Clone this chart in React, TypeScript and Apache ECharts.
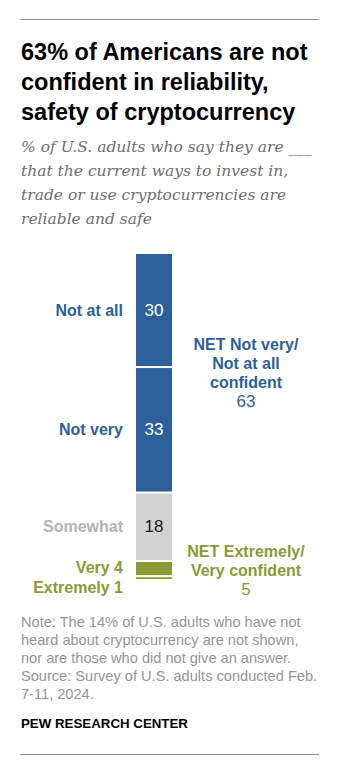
import React, { useEffect, useRef } from "react";
import * as echarts from "echarts";

const categories = ["Not at all", "Not very", "Somewhat", "Very", "Extremely"];
const values = [30, 33, 18, 4, 1];
const colors = ["#2d5f9a", "#2d5f9a", "#d2d2d2", "#8b9a35", "#8b9a35"];
const labelColors = ["#2d5f9a", "#2d5f9a", "#b3b3b3", "#8b9a35", "#8b9a35"];
const insideColors = ["#ffffff", "#ffffff", "#1a1a1a", "", ""];
const netValues = [63, 18, 5];
const netLabels = [["NET Not very/", "Not at all", "confident"], null, ["NET Extremely/", "Very confident"]];
const netColors = ["#2d5f9a", "", "#8b9a35"];

const titleText = "63% of Americans are not\nconfident in reliability,\nsafety of cryptocurrency";
const subtitleText =
  "% of U.S. adults who say they are ___\nthat the current ways to invest in,\ntrade or use cryptocurrencies are\nreliable and safe";
const noteText =
  "Note: The 14% of U.S. adults who have not\nheard about cryptocurrency are not shown,\nnor are those who did not give an answer.\nSource: Survey of U.S. adults conducted Feb.\n7-11, 2024.";
const sourceText = "PEW RESEARCH CENTER";

export default function App() {
  const ref = useRef<HTMLDivElement>(null);
  useEffect(() => {
    document.body.style.margin = "0";
    const chart = echarts.init(ref.current!, undefined, { renderer: "svg" });
    const font = "Liberation Sans";
    const total = values.reduce((a, b) => a + b, 0);

    const segSeries = categories.map((c, i) => ({
      type: "bar",
      name: c,
      stack: "seg",
      barWidth: 38,
      data: [values[i]],
      itemStyle: { color: colors[i], borderColor: "#ffffff", borderWidth: 1 },
      label: {
        show: i < 3,
        position: "inside",
        formatter: String(values[i]),
        color: insideColors[i] || "#fff",
        fontSize: 17,
        fontFamily: font,
      },
    }));

    const nameSeries = categories.map((c, i) => ({
      type: "bar",
      name: c + "-label",
      stack: "names",
      barWidth: 38,
      barGap: "-100%",
      data: [values[i]],
      itemStyle: { color: "transparent" },
      label: {
        show: true,
        position: "left",
        distance: 12,
        formatter: i < 3 ? c : c + " " + values[i],
        color: labelColors[i],
        fontSize: 16,
        fontWeight: "bold",
        fontFamily: font,
        offset: i === 4 ? [0, 9] : i === 3 ? [0, -1] : [0, 0],
      },
    }));

    const netSeries = netValues.map((v, i) => ({
      type: "bar",
      name: "net" + i,
      stack: "net",
      barWidth: 38,
      barGap: "-100%",
      data: [v],
      itemStyle: { color: "transparent" },
      label: {
        show: netLabels[i] !== null,
        position: "right",
        distance: 73,
        align: "center",
        formatter: netLabels[i]
          ? netLabels[i]!.map((l) => "{b|" + l + "}").join("\n") + "\n{n|" + v + "}"
          : "",
        rich: {
          b: { color: netColors[i], fontSize: 16, fontWeight: "bold", fontFamily: font, lineHeight: 19, align: "center" },
          n: { color: netColors[i], fontSize: 17, fontFamily: font, lineHeight: 19, align: "center" },
        },
      },
    }));

    chart.setOption({
      animation: false,
      grid: { left: 135, top: 253, width: 38, height: 327 },
      xAxis: { type: "category", data: ["All"], show: false },
      yAxis: { type: "value", min: 0, max: total, inverse: true, show: false },
      series: [...segSeries, ...nameSeries, ...netSeries],
      graphic: [
        { type: "line", shape: { x1: 20, y1: 19.5, x2: 319, y2: 19.5 }, style: { stroke: "#8c8c8c", lineWidth: 1 } },
        {
          type: "text",
          style: { text: titleText, x: 21, y: 37, fill: "#000", font: "bold 23.5px 'Liberation Sans'", lineHeight: 30, verticalAlign: "top" },
        },
        {
          type: "text",
          style: { text: subtitleText, x: 21, y: 135, fill: "#6e6e6e", font: "italic 15.5px 'DejaVu Serif'", lineHeight: 24, verticalAlign: "top" },
        },
        {
          type: "text",
          style: { text: noteText, x: 21, y: 613, fill: "#959595", font: "14.6px 'Liberation Sans'", lineHeight: 18, verticalAlign: "top" },
        },
        {
          type: "text",
          style: { text: sourceText, x: 21, y: 715, fill: "#000", font: "bold 13.3px 'Liberation Sans'", lineHeight: 16, verticalAlign: "top" },
        },
        { type: "line", shape: { x1: 20, y1: 754.5, x2: 319, y2: 754.5 }, style: { stroke: "#8c8c8c", lineWidth: 1 } },
      ],
    });
    return () => chart.dispose();
  }, []);
  return <div ref={ref} style={{ width: 340, height: 762 }} />;
}
